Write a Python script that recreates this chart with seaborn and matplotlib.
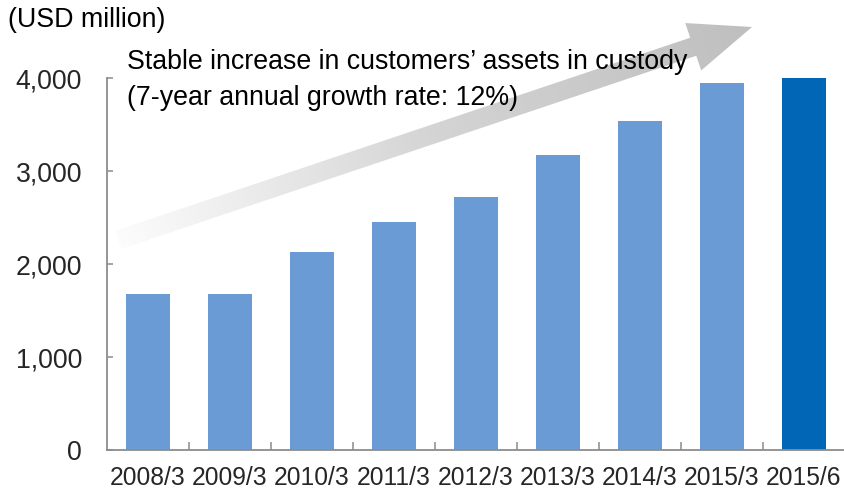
import numpy as np
import pandas as pd
import matplotlib
matplotlib.use("Agg")
import matplotlib.pyplot as plt
from matplotlib.patches import Polygon
from matplotlib.colors import LinearSegmentedColormap
import seaborn as sns

# Customers' assets in custody (USD million)
periods = ["2008/3", "2009/3", "2010/3", "2011/3", "2012/3",
           "2013/3", "2014/3", "2015/3", "2015/6"]
assets = [1674, 1674, 2123, 2446, 2721, 3170, 3536, 3942, 4010]
bar_colors = ["#6B9BD4"] * 8 + ["#0066B5"]
y_ticks = [0, 1000, 2000, 3000, 4000]

unit_label = "(USD million)"
headline = "Stable increase in customers\u2019 assets in custody"
subline = "(7-year annual growth rate: 12%)"

sns.set_theme(style="white")
plt.rcParams["font.family"] = ["Liberation Sans", "DejaVu Sans"]

W, H = 845, 489
fig = plt.figure(figsize=(W / 100, H / 100), dpi=100)
ax = fig.add_axes([107 / W, 1 - 450.5 / H, 1 - 107 / W, (450.5 - 79) / H])

df = pd.DataFrame({"period": periods, "assets": assets})
sns.barplot(data=df, x="period", y="assets", hue="period",
            palette=bar_colors, legend=False, width=0.53,
            saturation=1, ax=ax, linewidth=0)

ax.set_xlim(-0.5, len(periods) - 0.5)
ax.set_ylim(0, 4000)
ax.set_yticks(y_ticks)
ax.set_yticklabels([f"{v:,}" for v in y_ticks])
ax.set_xlabel("")
ax.set_ylabel("")

spine_color = "#8C8C8C"
for side in ["top", "right"]:
    ax.spines[side].set_visible(False)
for side in ["left", "bottom"]:
    ax.spines[side].set_color(spine_color)
    ax.spines[side].set_linewidth(1.3)

ax.tick_params(axis="y", direction="in", length=4, width=1.1,
               color=spine_color, labelsize=19.2, pad=18, left=True)
ax.tick_params(axis="x", which="major", length=0, labelsize=17.7, pad=11)
ax.set_xticks(np.arange(0.5, len(periods) - 1, 1.0), minor=True)
ax.tick_params(axis="x", which="minor", direction="in", length=5.5,
               width=1.1, color=spine_color, bottom=True)

# Overlay in pixel coordinates for the growth arrow and annotations
ov = fig.add_axes([0, 0, 1, 1])
ov.set_axis_off()

tail = np.array([118.0, 241.0])
tip = np.array([752.0, 28.0])
u = (tip - tail) / np.linalg.norm(tip - tail)
n = np.array([-u[1], u[0]])
base = tip - 62 * u
w_shaft, w_head = 9.5, 25.0
pts = [tail + w_shaft * n, base + w_shaft * n, base + w_head * n, tip,
       base - w_head * n, base - w_shaft * n, tail - w_shaft * n]
arrow = Polygon(pts, closed=True, facecolor="none", edgecolor="none")
ov.add_patch(arrow)

xs = np.linspace(100, 780, 400)
ys = np.linspace(0, 270, 200)
XX, YY = np.meshgrid(xs, ys)
proj = ((XX - tail[0]) * u[0] + (YY - tail[1]) * u[1]) / np.linalg.norm(tip - tail)
proj = np.clip(proj, 0, 1)
cmap = LinearSegmentedColormap.from_list("fade", ["#FCFCFC", "#D4D4D4", "#BFBFBF"])
im = ov.imshow(proj, extent=(xs[0], xs[-1], ys[-1], ys[0]), cmap=cmap,
               vmin=0, vmax=1, aspect="auto", interpolation="bilinear")
im.set_clip_path(arrow)

ov.set_xlim(0, W)
ov.set_ylim(H, 0)

ov.text(8, 20, unit_label, fontsize=19.3, ha="left", va="center", color="black")
ov.text(127, 62, headline, fontsize=19.3, ha="left", va="center", color="black")
ov.text(127, 98, subline, fontsize=19.3, ha="left", va="center", color="black")

fig.savefig("out.png", dpi=100)
